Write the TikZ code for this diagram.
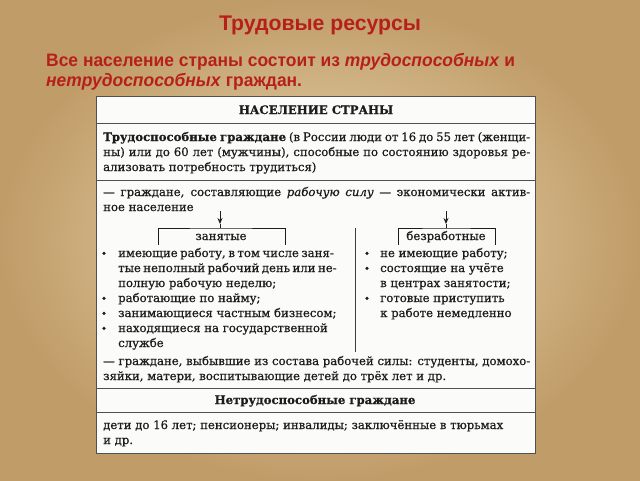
\documentclass[tikz,border=0pt]{standalone}
\usepackage{graphicx}
\usepackage{fontspec}
\setmainfont{DejaVu Serif}[FakeBold=0.7]
\newfontfamily\slidefont{Liberation Sans}
\usetikzlibrary{arrows.meta}
\definecolor{titlered}{RGB}{183,32,26}
\definecolor{parchlight}{RGB}{236,220,182}
\definecolor{parchdark}{RGB}{192,156,104}
\definecolor{ink}{RGB}{28,28,28}
\definecolor{rulegray}{RGB}{80,80,80}
\definecolor{paper}{RGB}{251,251,249}
\newlength\reflen
\newlength\subln
\newlength\titlen
\newcommand\bodyfont{\fontsize{\bfs pt}{15pt}\selectfont}
\newcommand\subfontbase{\slidefont\bfseries\fontsize{18pt}{20pt}\selectfont}
\newcommand\jl[2]{\makebox[#1pt][s]{#2}}
\AtBeginDocument{%
\settowidth\reflen{\fontsize{10pt}{12pt}\selectfont дети до 16 лет; пенсионеры; инвалиды; заключённые в тюрьмах}%
\pgfmathsetmacro\bfs{10*400/\reflen}%
\settowidth\subln{\subfontbase Все население страны состоит из \textit{трудоспособных} и}%
\pgfmathsetmacro\sxs{469/\subln}%
\settowidth\titlen{\slidefont\bfseries\fontsize{20pt}{24pt}\selectfont Трудовые ресурсы}%
\pgfmathsetmacro\tfs{20*202/\titlen}%
}
\begin{document}
\begin{tikzpicture}[x=1pt,y=-1pt,
  body/.style={font=\bodyfont, text=ink, inner sep=0pt, anchor=base west},
  hdr/.style={font=\bodyfont\bfseries, text=ink, inner sep=0pt, anchor=base},
  sepline/.style={draw=rulegray, line width=1pt},
  brk/.style={draw=ink, line width=0.8pt},
  arr/.style={draw=ink, line width=0.8pt, -{Stealth[length=6pt,width=5pt]}},
  stem/.style={draw=ink, line width=0.8pt},
  bul/.style={circle, fill=ink, inner sep=0pt, minimum size=3.6pt},
  divider/.style={draw=ink!85, line width=0.7pt},
  slide/.style={text=titlered, inner sep=0pt}]
\useasboundingbox (0,0) rectangle (640,480);
\shade[inner color=parchlight, outer color=parchdark] (0,0) rectangle (640,480);

% slide title and text
\node[slide, anchor=base, font=\slidefont\bfseries\fontsize{\tfs pt}{24pt}\selectfont] (title) at (320,30) {Трудовые ресурсы};
\node[slide, anchor=base west] (sub1) at (46,66) {\scalebox{\sxs}[1]{\subfontbase Все население страны состоит из \textit{трудоспособных} и}};
\node[slide, anchor=base west] (sub2) at (46,86) {\scalebox{\sxs}[1]{\subfontbase \textit{нетрудоспособных} граждан.}};

% panel
\filldraw[fill=paper, draw=rulegray, line width=0.8pt] (96,96) rectangle (535,453);
\draw[sepline] (96,123) -- (535,123);
\draw[sepline] (96,180) -- (535,180);
\draw[sepline] (96,388) -- (535,388);
\draw[sepline] (96,412) -- (535,412);

\node[hdr] (h1) at (316,114) {НАСЕЛЕНИЕ СТРАНЫ};
\node[body] (l1) at (103,141) {\jl{427}{\textbf{Трудоспособные граждане} (в России люди от 16 до 55 лет (женщи-}};
\node[body] (l2) at (103,156) {\jl{427}{ны) или до 60 лет (мужчины), способные по состоянию здоровья ре-}};
\node[body] (l3) at (103,171) {ализовать потребность трудиться)};
\node[body] (l4) at (103,196) {\jl{427}{— граждане, составляющие \textit{рабочую силу} — экономически актив-}};
\node[body] (l5) at (103,211) {ное население};

% arrows and brackets
\coordinate (a1s) at (220,211);
\coordinate (a1t) at (220,224);
\coordinate (a1b) at (220,228);
\coordinate (a2s) at (446,211);
\coordinate (a2t) at (446,224);
\coordinate (a2b) at (446,228);
\draw[arr] (a1s) -- (a1t);
\draw[stem] (a1t) -- (a1b);
\draw[arr] (a2s) -- (a2t);
\draw[stem] (a2t) -- (a2b);
\coordinate (b1l) at (158,245);
\coordinate (b1r) at (285,245);
\coordinate (b2l) at (398,245);
\coordinate (b2r) at (495,245);
\draw[brk] (b1l) |- (a1b) -| (b1r);
\draw[brk] (b2l) |- (a2b) -| (b2r);
\node[hdr, font=\bodyfont] (zan) at (221,240) {занятые};
\node[hdr, font=\bodyfont] (bez) at (446,240) {безработные};

% divider
\coordinate (dvt) at (355,228);
\coordinate (dvb) at (355,352);
\draw[divider] (dvt) -- (dvb);

% left column
\node[bul] (bl1) at (104,253.3) {};
\node[bul] (bl2) at (104,298.3) {};
\node[bul] (bl3) at (104,313.3) {};
\node[bul] (bl4) at (104,328.3) {};
\node[body] (c1) at (118,257) {\jl{209}{имеющие работу, в том числе заня-}};
\node[body] (c2) at (118,272) {\jl{209}{тые неполный рабочий день или не-}};
\node[body] (c3) at (118,287) {полную рабочую неделю;};
\node[body] (c4) at (118,302) {работающие по найму;};
\node[body] (c5) at (118,317) {занимающиеся частным бизнесом;};
\node[body] (c6) at (118,332) {находящиеся на государственной};
\node[body] (c7) at (118,347) {службе};

% right column
\node[bul] (br1) at (367,253.3) {};
\node[bul] (br2) at (367,268.3) {};
\node[bul] (br3) at (367,298.3) {};
\node[body] (r1) at (380,257) {не имеющие работу;};
\node[body] (r2) at (380,272) {состоящие на учёте};
\node[body] (r3) at (380,287) {в центрах занятости;};
\node[body] (r4) at (380,302) {готовые приступить};
\node[body] (r5) at (380,317) {к работе немедленно};

\node[body] (l6) at (103,365) {\jl{427}{— граждане, выбывшие из состава рабочей силы: студенты, домохо-}};
\node[body] (l7) at (103,380) {зяйки, матери, воспитывающие детей до трёх лет и др.};
\node[hdr] (h2) at (315,404) {Нетрудоспособные граждане};
\node[body] (l8) at (103,429) {дети до 16 лет; пенсионеры; инвалиды; заключённые в тюрьмах};
\node[body] (l9) at (103,444) {и др.};
\end{tikzpicture}
\end{document}
